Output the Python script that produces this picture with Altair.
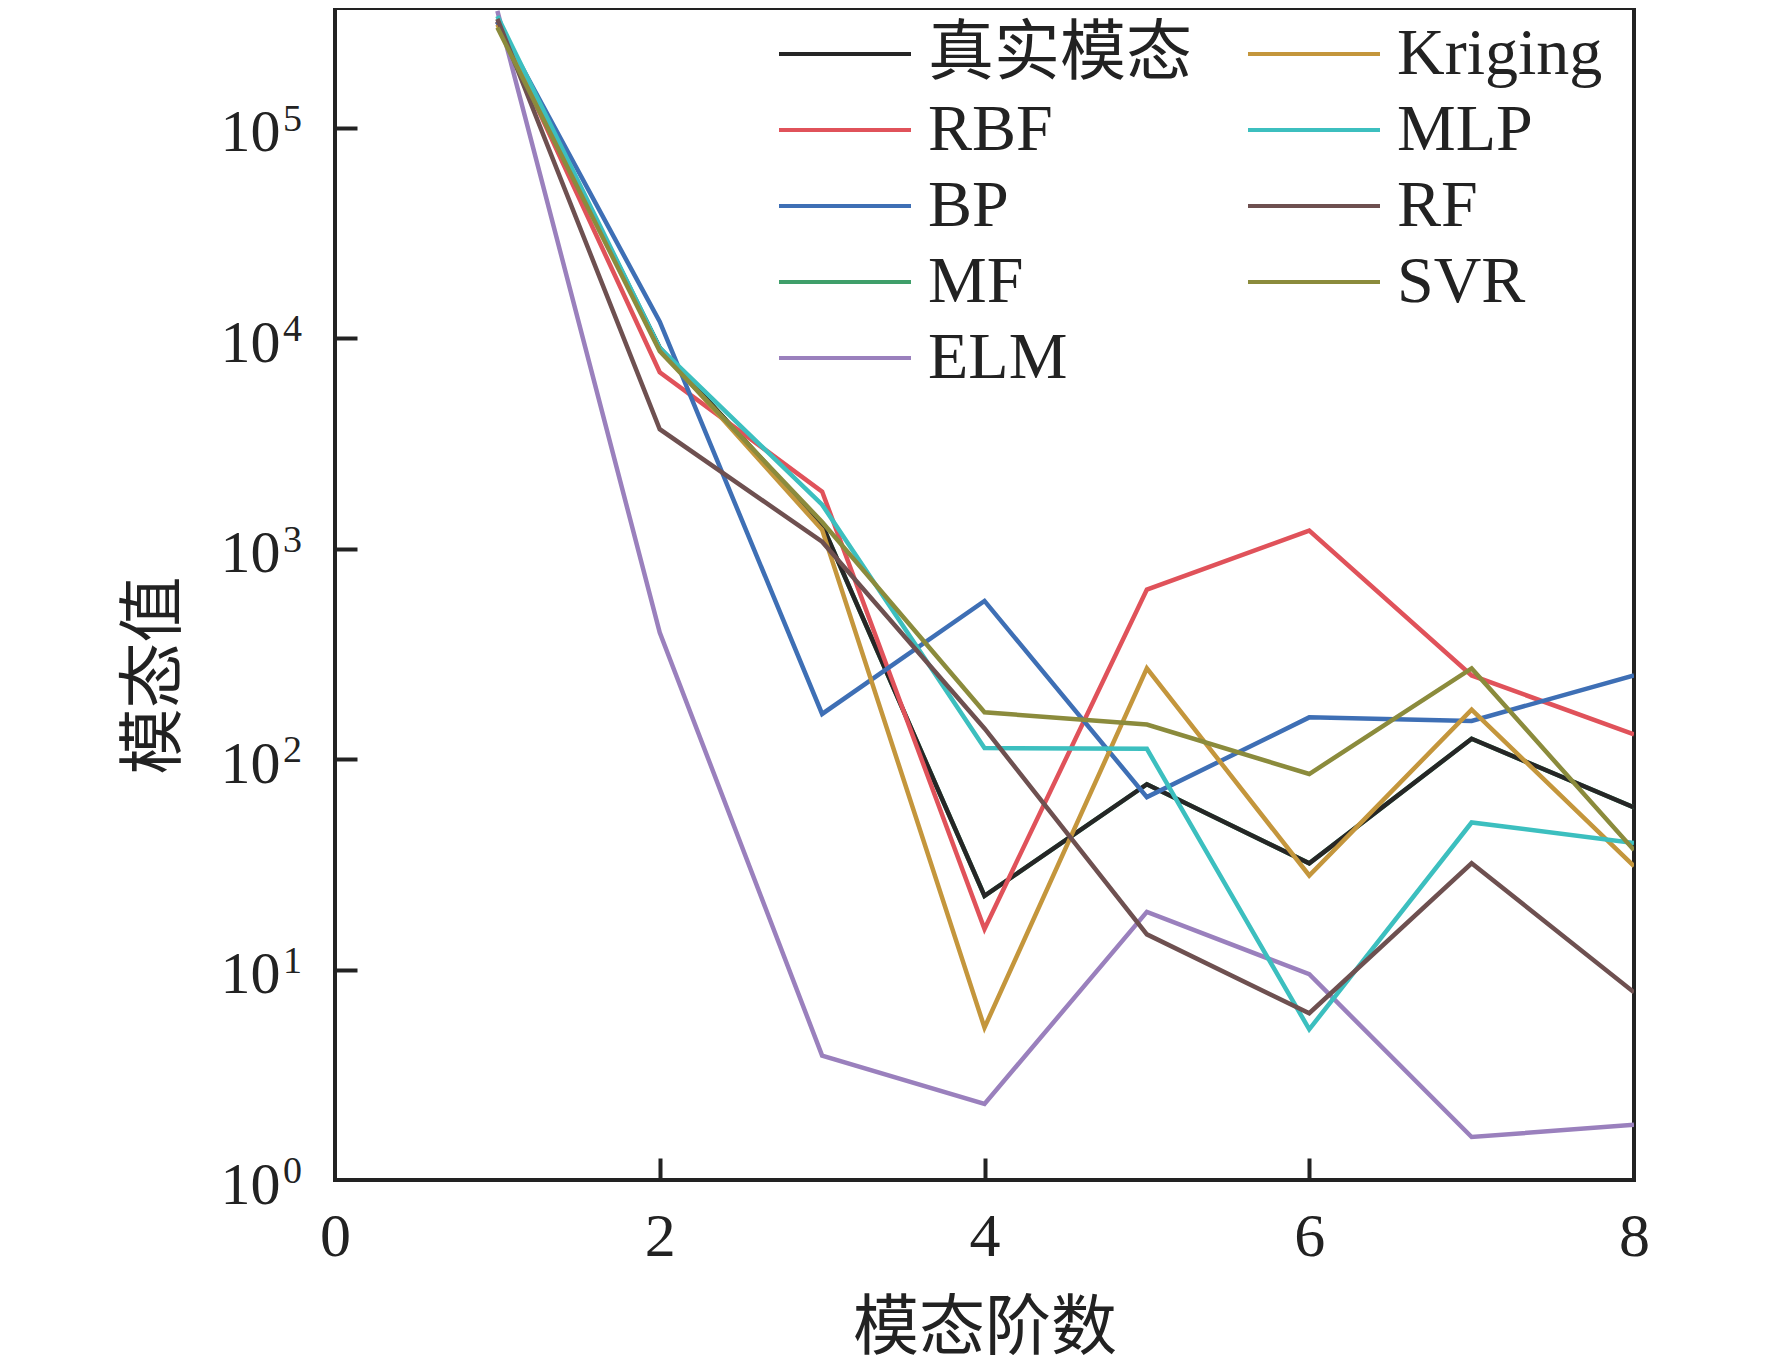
import altair as alt
import pandas as pd

# ---- data ----
orders = [1, 2, 3, 4, 5, 6, 7, 8]
true_mode = [320000, 9000, 1300, 22.4, 76, 32, 125, 59]
rbf = [320000, 6900, 1870, 15.6, 640, 1220, 250, 131]
bp = [320000, 12000, 164, 565, 66, 158, 152, 250]
mf = [320000, 9000, 1300, 22.4, 76, 32, 125, 59]
elm = [360000, 400, 3.9, 2.3, 18.8, 9.5, 1.6, 1.83]
kriging = [310000, 8900, 1230, 5.3, 270, 28, 172, 31]
mlp = [340000, 9000, 1620, 113, 112, 5.2, 50, 40]
rf = [330000, 3700, 1080, 140, 14.7, 6.2, 32, 7.8]
svr = [300000, 8700, 1340, 167, 146, 85, 270, 37]

# draw order (first = bottom)
draw_order = [("MF", mf), ("真实模态", true_mode), ("RBF", rbf), ("BP", bp),
              ("ELM", elm), ("Kriging", kriging), ("MLP", mlp), ("RF", rf), ("SVR", svr)]

legend_order = ["真实模态", "RBF", "BP", "MF", "ELM", "Kriging", "MLP", "RF", "SVR"]
legend_colors = ["#262626", "#e0525a", "#3e6fb5", "#3f9f6a", "#9a80bd",
                 "#c4963c", "#3cbfbf", "#6e5050", "#8b8b3c"]

x_ticks = [0, 2, 4, 6, 8]
y_ticks = [1, 10, 100, 1000, 10000, 100000]
y_exponents = ["0", "1", "2", "3", "4", "5"]

rows = []
for name, vals in draw_order:
    for o, v in zip(orders, vals):
        rows.append({"series": name, "order": o, "value": v})
df = pd.DataFrame(rows)
df_exp = pd.DataFrame({"value": y_ticks, "exp": y_exponents})

FONT = "'Liberation Serif', 'Times New Roman', 'Noto Sans CJK SC', serif"
W, H = 1299, 1172
xscale = alt.Scale(domain=[0, 8], nice=False, zero=False)
yscale = alt.Scale(type="log", domain=[1, 371535], nice=False)

lines = alt.Chart(df).mark_line(strokeWidth=4.5, clip=True).encode(
    x=alt.X("order:Q", scale=xscale,
            axis=alt.Axis(values=x_ticks, ticks=False, domain=False, grid=False,
                          labelFontSize=62, labelPadding=26, labelFont=FONT,
                          labelColor="#222", format="d", labelFlush=False,
                          title="模态阶数", titleFont=FONT, titleFontSize=66,
                          titleFontWeight="normal", titleColor="#222", titlePadding=29)),
    y=alt.Y("value:Q", scale=yscale,
            axis=alt.Axis(values=y_ticks, ticks=False, domain=False, grid=False,
                          labelFontSize=60, labelPadding=55, labelFont=FONT,
                          labelColor="#222", labelExpr="'10'", labelFlush=False,
                          labelOffset=5,
                          title="模态值", titleFont=FONT, titleFontSize=66,
                          titleFontWeight="normal", titleColor="#222",
                          titleAngle=270, titleX=-181, titleY=667,
                          titleAlign="center", titleBaseline="middle")),
    color=alt.Color("series:N",
                    scale=alt.Scale(domain=legend_order, range=legend_colors),
                    sort=legend_order,
                    legend=alt.Legend(title=None, orient="none", legendX=431, legendY=13,
                                      columns=2, columnPadding=43, rowPadding=10,
                                      labelFont=FONT, labelFontSize=66, labelColor="#222",
                                      labelLimit=600,
                                      symbolType="M-3.3,0L3.3,0", symbolSize=1600,
                                      symbolStrokeWidth=4, symbolOffset=46,
                                      labelOffset=50, padding=0)),
)

exps = alt.Chart(df_exp).mark_text(align="left", baseline="alphabetic", fontSize=38,
                                   font=FONT, color="#222", dy=3).encode(
    x=alt.value(-52),
    y=alt.Y("value:Q", scale=yscale, axis=None),
    text="exp:N",
)

ticks = alt.Chart(df).mark_point(opacity=0).encode(
    x=alt.X("order:Q", scale=xscale,
            axis=alt.Axis(orient="top", offset=-H, values=[2, 4, 6], labels=False,
                          domain=False, grid=False, tickSize=22, tickWidth=4,
                          tickColor="#222", title=None)),
    y=alt.Y("value:Q", scale=yscale,
            axis=alt.Axis(orient="right", offset=-W, values=[10, 100, 1000, 10000, 100000],
                          labels=False, domain=False, grid=False, tickSize=22,
                          tickWidth=4, tickColor="#222", title=None)),
)

chart = alt.layer(lines, ticks, exps).resolve_axis(x="independent", y="independent").properties(
    width=W, height=H,
    background="white",
    autosize=alt.AutoSizeParams(type="none"),
    padding={"left": 327, "top": 0, "right": 130, "bottom": 182},
).configure_view(stroke="#222", strokeWidth=4)

chart.save("out.html", embed_options={"renderer": "svg", "actions": False})
